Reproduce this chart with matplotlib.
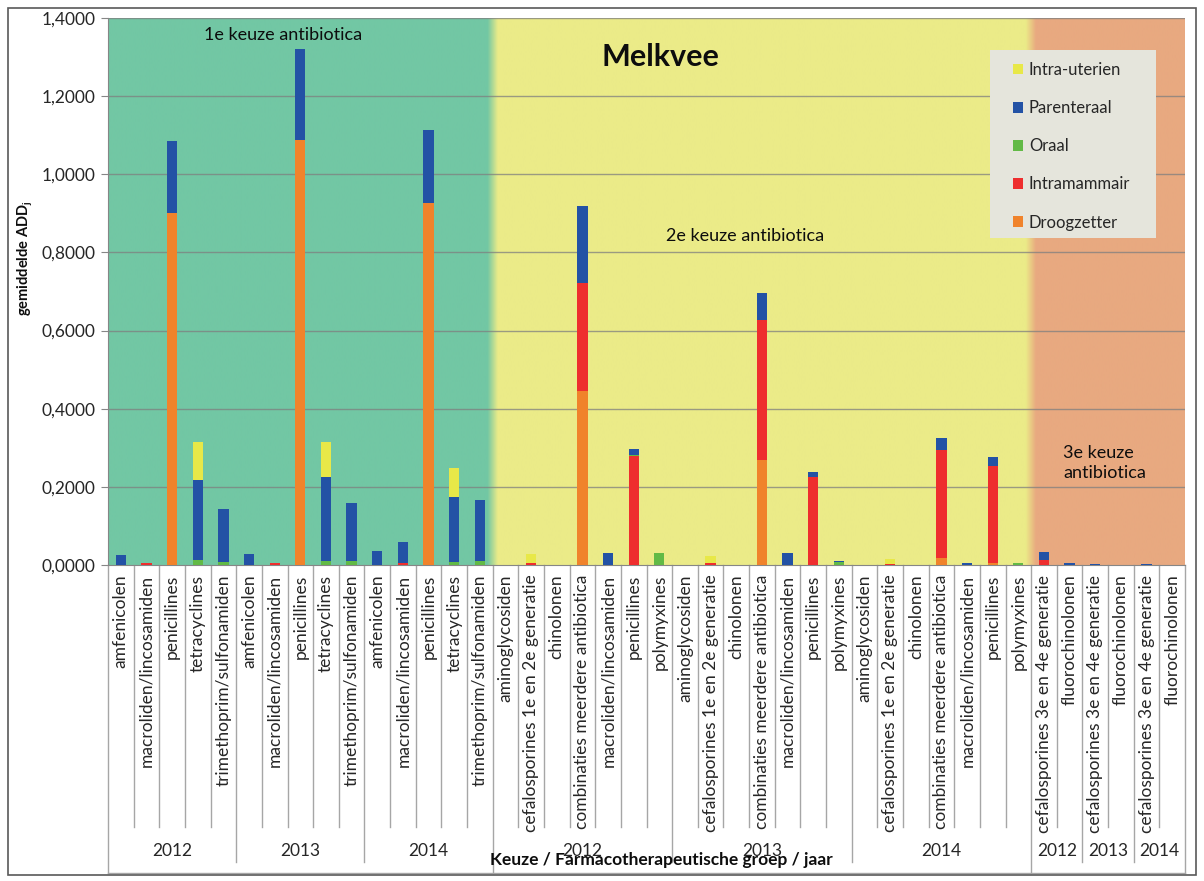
import numpy as np
import matplotlib.pyplot as plt
import matplotlib.transforms as mtransforms
from matplotlib.patches import Patch, Rectangle

plt.rcParams['font.family'] = ['Lato', 'DejaVu Sans']

# categories (per keuze / jaar)
cats_1e = ["amfenicolen", "macroliden/lincosamiden", "penicillines", "tetracyclines",
           "trimethoprim/sulfonamiden"]
cats_2e = ["aminoglycosiden", "cefalosporines 1e en 2e generatie", "chinolonen",
           "combinaties meerdere antibiotica", "macroliden/lincosamiden", "penicillines",
           "polymyxines"]
cats_3e = ["cefalosporines 3e en 4e generatie", "fluorochinolonen"]
years = ["2012", "2013", "2014"]

categories = cats_1e * 3 + cats_2e * 3 + [c for y in years for c in cats_3e]
year_groups = [(y, len(cats_1e)) for y in years] + [(y, len(cats_2e)) for y in years] + \
              [(y, len(cats_3e)) for y in years]
keuze_sizes = [len(cats_1e) * 3, len(cats_2e) * 3, len(cats_3e) * 3]

# series values (gemiddelde ADDj)
droogzetter = [0, 0, 0.902, 0, 0,  0, 0, 1.088, 0, 0,  0, 0, 0.926, 0, 0,
               0, 0, 0, 0.446, 0, 0, 0,  0, 0, 0, 0.269, 0, 0, 0,
               0, 0, 0, 0.017, 0, 0.004, 0,
               0, 0, 0, 0, 0, 0]
intramammair = [0, 0.004, 0, 0, 0,  0, 0.004, 0, 0, 0,  0, 0.005, 0, 0, 0,
                0, 0.005, 0, 0.275, 0, 0.280, 0,  0, 0.004, 0, 0.358, 0, 0.224, 0,
                0, 0.003, 0, 0.278, 0, 0.249, 0,
                0.013, 0, 0, 0, 0, 0]
oraal = [0, 0, 0, 0.012, 0.007,  0, 0.002, 0, 0.009, 0.009,  0, 0, 0, 0.007, 0.009,
         0, 0, 0, 0, 0, 0.002, 0.031,  0, 0, 0, 0, 0, 0, 0.007,
         0, 0, 0, 0, 0, 0, 0.005,
         0, 0, 0, 0, 0, 0]
parenteraal = [0.026, 0, 0.184, 0.206, 0.136,  0.029, 0, 0.232, 0.217, 0.149,
               0.036, 0.055, 0.187, 0.168, 0.157,
               0, 0, 0, 0.199, 0.031, 0.014, 0,  0, 0, 0, 0.068, 0.030, 0.014, 0.003,
               0, 0, 0, 0.029, 0.005, 0.023, 0,
               0.020, 0.006, 0.003, 0, 0.003, 0]
intra_uterien = [0, 0, 0, 0.098, 0,  0, 0, 0, 0.090, 0,  0, 0, 0, 0.074, 0,
                 0, 0.023, 0, 0, 0, 0, 0,  0, 0.020, 0, 0, 0, 0, 0,
                 0, 0.012, 0, 0, 0, 0, 0,
                 0, 0, 0, 0, 0, 0]

series = [("Droogzetter", droogzetter, "#F0832B"),
          ("Intramammair", intramammair, "#EE2E2E"),
          ("Oraal", oraal, "#62BA46"),
          ("Parenteraal", parenteraal, "#2352A5"),
          ("Intra-uterien", intra_uterien, "#E8E848")]

W, H = 1204, 881
fig = plt.figure(figsize=(W / 100, H / 100), dpi=100)


def fx(px):
    return px / W


def fy(py):
    return 1 - py / H


ax = fig.add_axes([fx(108), fy(565), fx(1185) - fx(108), fy(18) - fy(565)])
n = len(categories)
x = np.arange(n)

# background bands: 1e / 2e / 3e keuze
green = np.array([114, 199, 164]) / 255
yellow = np.array([235, 235, 136]) / 255
salmon = np.array([232, 169, 128]) / 255
xs = np.linspace(-0.5, n - 0.5, n * 40)
b1 = keuze_sizes[0] - 0.5
b2 = keuze_sizes[0] + keuze_sizes[1] - 0.5
t1 = np.clip((xs - b1) / 0.4 + 0.5, 0, 1)[:, None]
t2 = np.clip((xs - b2) / 0.4 + 0.5, 0, 1)[:, None]
bg = green * (1 - t1) + yellow * t1
bg = bg * (1 - t2) + salmon * t2
ax.imshow(bg[None, :, :], extent=(-0.5, n - 0.5, 0, 1.4), aspect='auto', zorder=0,
          interpolation='bilinear')

yt = np.arange(0, 1.41, 0.2)
for v in yt[1:]:
    ax.axhline(v, color='#7F7F7F', lw=1, alpha=0.75, zorder=1)

bottom = np.zeros(n)
for name, vals, col in series:
    vals = np.array(vals)
    ax.bar(x, vals, 0.4, bottom=bottom, color=col, zorder=3, label=name)
    bottom += vals

ax.set_xlim(-0.5, n - 0.5)
ax.set_ylim(0, 1.4)
ax.set_yticks(yt)
ax.set_yticklabels([f"{v:.4f}".replace('.', ',') for v in yt])
ax.tick_params(axis='y', length=5, color='#868686', labelsize=12.5, labelcolor='#262626', pad=4)
ax.set_xticks(x)
ax.set_xticklabels(categories, rotation=90, fontsize=12.5, color='#262626')
ax.tick_params(axis='x', length=0, pad=7)
for s in ['top', 'right']:
    ax.spines[s].set_visible(False)
for s in ['left', 'bottom']:
    ax.spines[s].set_color('#868686')

# multi-level category axis
trans = mtransforms.blended_transform_factory(ax.transData, fig.transFigure)
year_bounds = np.cumsum([g[1] for g in year_groups])
keuze_bounds = np.cumsum(keuze_sizes)
line_kw = dict(transform=trans, clip_on=False, color='#A6A6A6', lw=1)
for i in range(0, n + 1):
    b = i - 0.5
    if i == 0 or i in keuze_bounds:
        end = 873
    elif i in year_bounds:
        end = 862
    else:
        end = 827
    ax.plot([b, b], [fy(565), fy(end)], **line_kw)
ax.plot([-0.5, n - 0.5], [fy(873), fy(873)], **line_kw)

start = 0
for label, size in year_groups:
    ax.text(start + (size - 1) / 2, fy(851), label, transform=trans, ha='center',
            va='center', fontsize=12.5, color='#262626')
    start += size

fig.text(fx(661), fy(860), "Keuze / Farmacotherapeutische groep / jaar", ha='center',
         va='center', fontsize=12.5, fontweight='bold', color='#0D0D0D')
fig.text(fx(25), fy(258), "gemiddelde ADD$_{\\mathregular{j}}$", rotation=90, ha='center',
         va='center', fontsize=10.5, fontweight='bold', color='#0D0D0D')

# annotations
fig.text(fx(660), fy(57), "Melkvee", ha='center', va='center', fontsize=22,
         fontweight='bold', color='#0D0D0D')
fig.text(fx(283), fy(35), "1e keuze antibiotica", ha='center', va='center', fontsize=13,
         color='#0D0D0D')
fig.text(fx(745), fy(236), "2e keuze antibiotica", ha='center', va='center', fontsize=13,
         color='#0D0D0D')
fig.text(fx(1063), fy(463), "3e keuze\nantibiotica", ha='left', va='center', fontsize=13,
         color='#0D0D0D', linespacing=1.35)

# legend
ax.add_patch(Rectangle((0.8189, 0.5978), 0.9731 - 0.8189, 0.9415 - 0.5978,
                       transform=ax.transAxes, facecolor='#E5E5DC', edgecolor='none',
                       zorder=4))
handles = [Patch(facecolor=c, label=nm) for nm, _, c in reversed(series)]
leg = ax.legend(handles=handles, loc='upper left', bbox_to_anchor=(0.8403, 0.9196),
                frameon=False, fontsize=12, borderpad=0, borderaxespad=0,
                handlelength=0.6, handleheight=0.6, handletextpad=0.35,
                labelspacing=1.33)
leg.set_zorder(5)
for t in leg.get_texts():
    t.set_color('#262626')

fig.patches.append(Rectangle((fx(8), fy(875)), fx(1196) - fx(8), fy(8) - fy(875),
                             transform=fig.transFigure, fill=False, edgecolor='#595959',
                             lw=1.2))

fig.savefig("out.png", dpi=100)
